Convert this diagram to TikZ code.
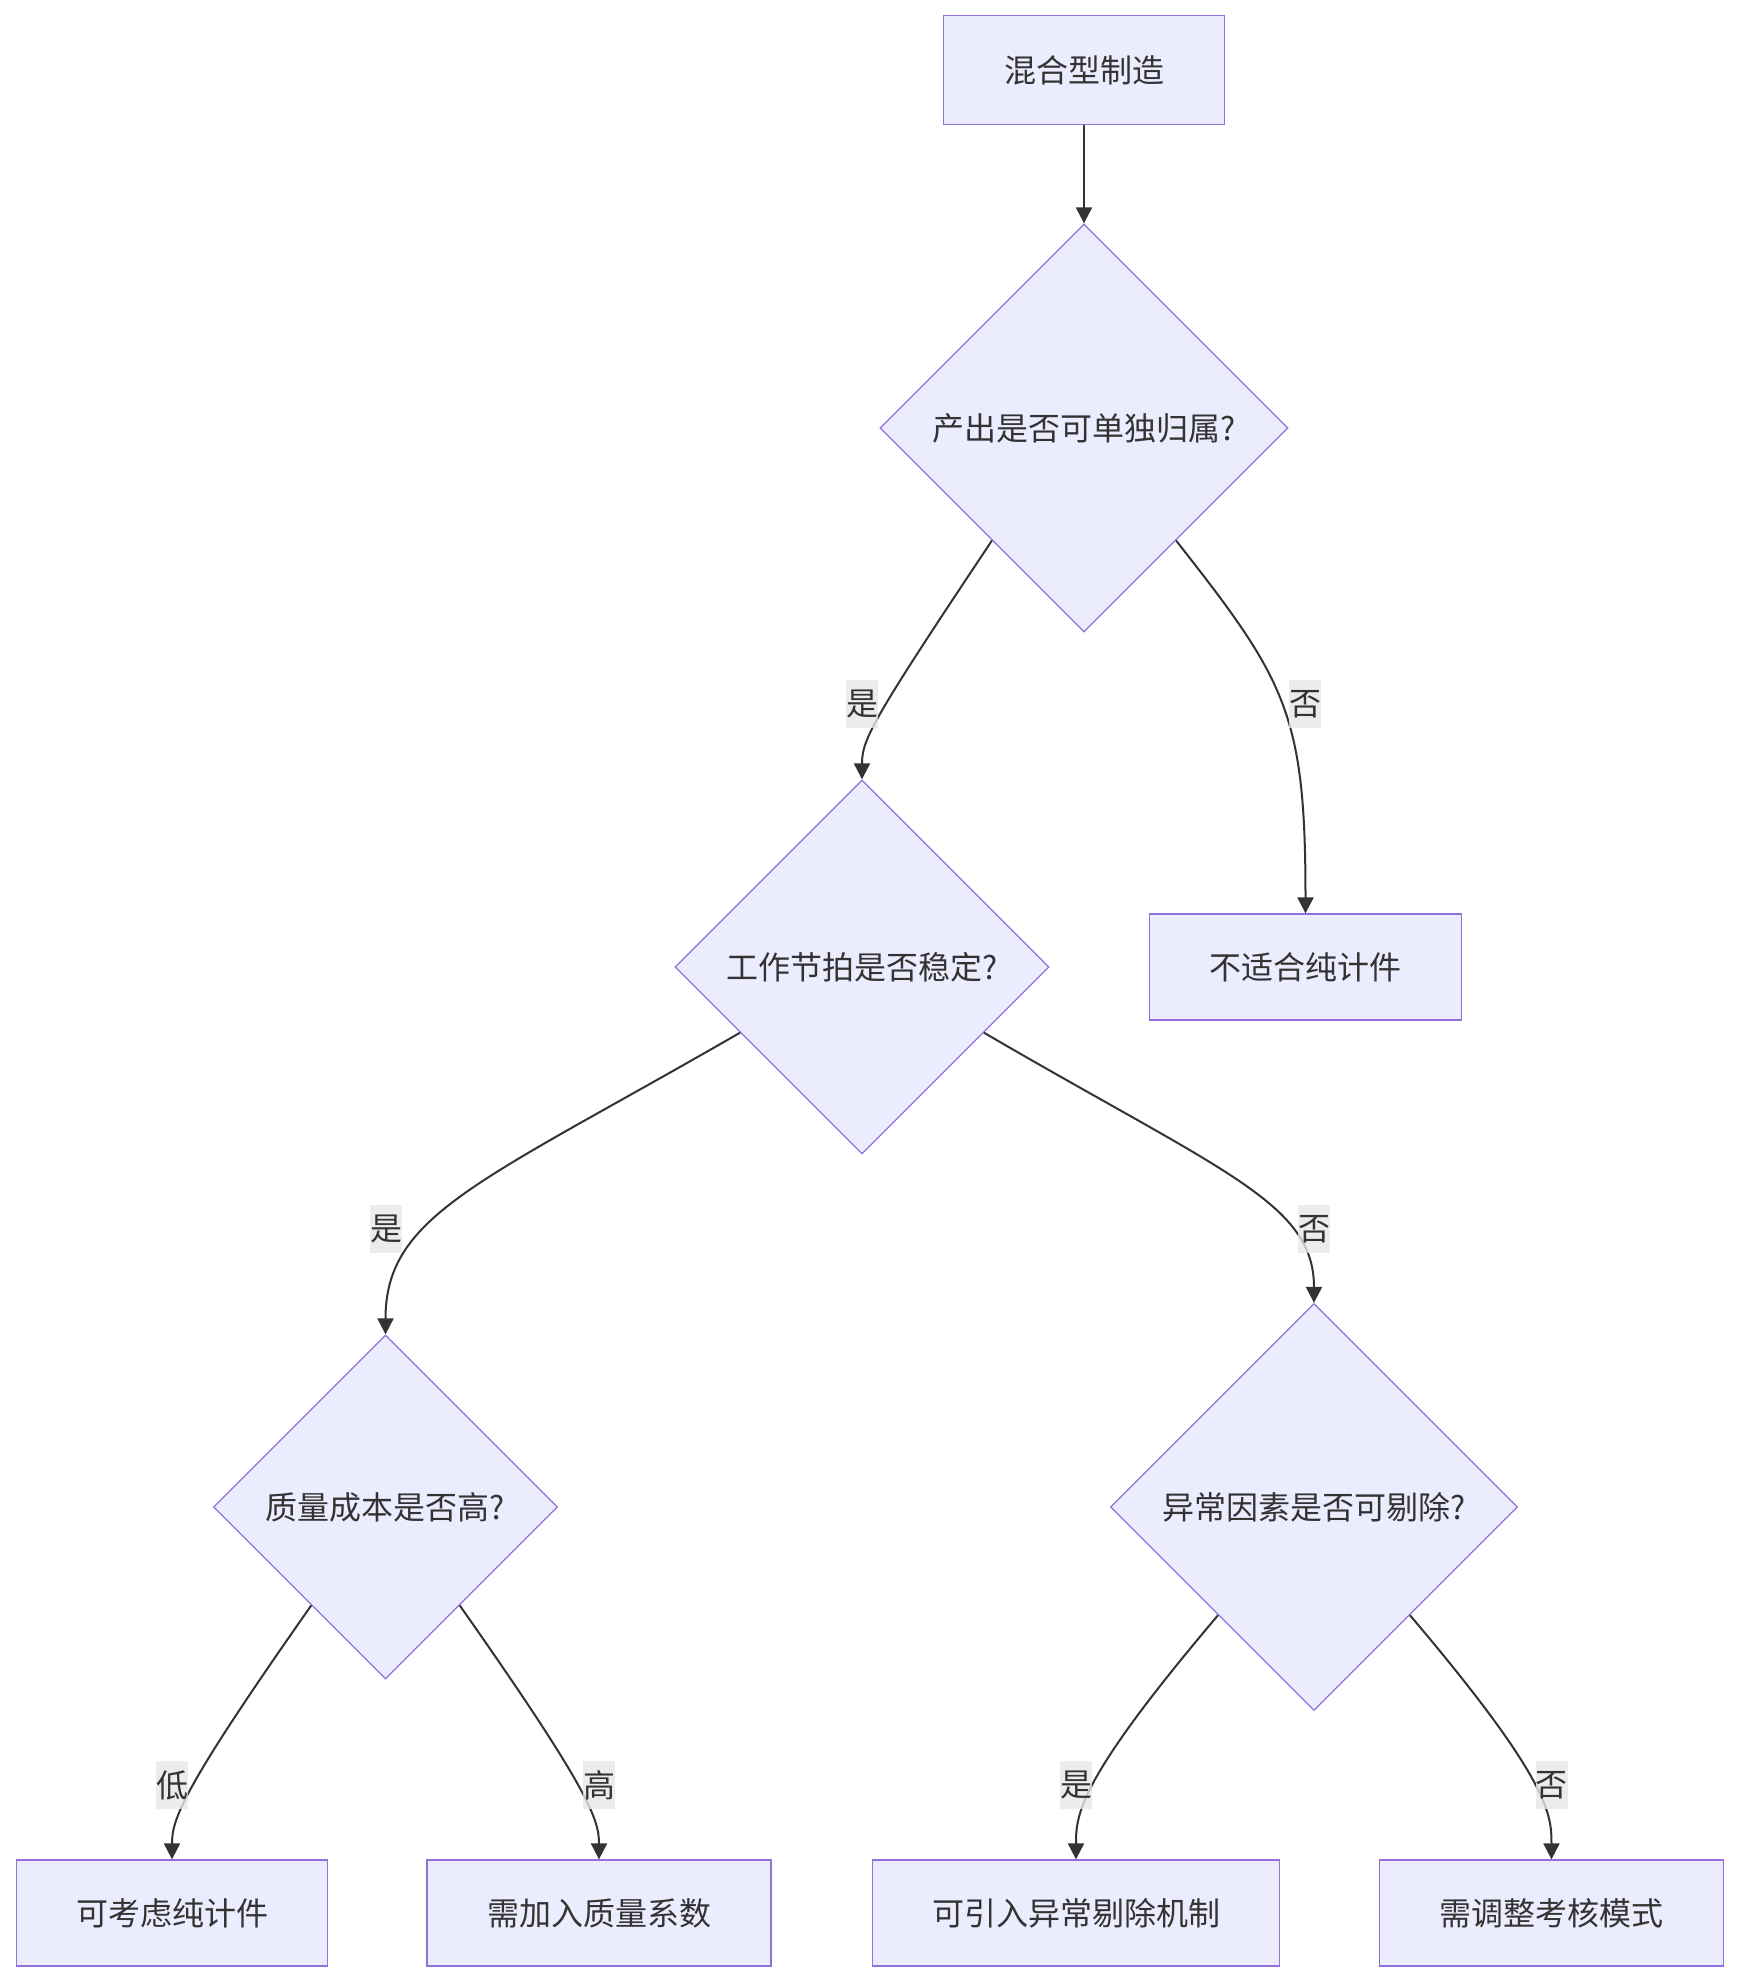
\documentclass[tikz,border=0pt]{standalone}
\usepackage{fontspec}
\newfontfamily\cjkfont{Noto Sans CJK SC}
\usetikzlibrary{arrows.meta,calc,positioning,shapes.geometric}
\definecolor{boxfill}{HTML}{ECECFF}
\definecolor{boxline}{HTML}{9370DB}
\definecolor{inkgray}{HTML}{333333}
\definecolor{tagfill}{HTML}{E8E8E8}
\begin{document}
\begin{tikzpicture}[x=.5pt,y=-.5pt,font={\cjkfont\fontsize{16pt}{19pt}\selectfont},text=inkgray,
 box/.style={draw=boxline,fill=boxfill,line width=.65pt,minimum height=53pt,inner sep=0pt},
 choice/.style={diamond,aspect=1,draw=boxline,fill=boxfill,line width=.65pt,inner sep=0pt},
 flow/.style={draw=inkgray,line width=1pt,-{Triangle[length=8pt,width=8pt]}},
 tag/.style={fill=tagfill,fill opacity=.8,text opacity=1,inner sep=0pt,minimum width=16pt,minimum height=24pt}]
\fill[white] (0,0) rectangle (1740,1983);
\useasboundingbox (0,0) rectangle (1740,1983);
\node[box,minimum width=140.5pt,minimum height=54.5pt] (mix) at (1084,70) {混合型制造};
\node[choice,minimum size=204pt] (own) at (1084,428) {产出是否可单独归属?};
\node[choice,minimum size=187pt] (beat) at (862,967) {工作节拍是否稳定?};
\node[box,minimum width=156pt] (nopiece) at (1305.5,967) {不适合纯计件};
\node[choice,minimum size=172pt] (qcost) at (385.5,1507) {质量成本是否高?};
\node[choice,minimum size=203.5pt] (anom) at (1314,1507) {异常因素是否可剔除?};
\node[box,minimum width=155.5pt] (piece) at (172,1913) {可考虑纯计件};
\node[box,minimum width=172pt] (qfactor) at (599,1913) {需加入质量系数};
\node[box,minimum width=203.5pt] (remove) at (1076,1913) {可引入异常剔除机制};
\node[box,minimum width=172pt] (redo) at (1551.5,1913) {需调整考核模式};
\draw[flow] (mix) -- (own);
\draw[flow] ($(own.south)!.45!(own.west)$) .. controls +(-120,180) and +(0,-40) .. (beat.north);
\draw[flow] ($(own.south)!.45!(own.east)$) .. controls +(110,140) and +(0,-200) .. (nopiece.north);
\draw[flow] ($(beat.west)!.35!(beat.south)$) .. controls +(-260,150) and +(0,-120) .. (qcost.north);
\draw[flow] ($(beat.east)!.35!(beat.south)$) .. controls +(240,140) and +(0,-100) .. (anom.north);
\draw[flow] ($(qcost.south)!.43!(qcost.west)$) .. controls +(-130,185) and +(0,-40) .. (piece.north);
\draw[flow] ($(qcost.south)!.43!(qcost.east)$) .. controls +(130,185) and +(0,-40) .. (qfactor.north);
\draw[flow] ($(anom.south)!.47!(anom.west)$) .. controls +(-140,165) and +(0,-45) .. (remove.north);
\draw[flow] ($(anom.south)!.47!(anom.east)$) .. controls +(140,165) and +(0,-45) .. (redo.north);
\node[tag] (yes1) at (862,704) {是};
\node[tag] (no1) at (1305,704) {否};
\node[tag] (yes2) at (386,1229) {是};
\node[tag] (no2) at (1314,1229) {否};
\node[tag] (low) at (172,1785) {低};
\node[tag] (high) at (599,1785) {高};
\node[tag] (yes3) at (1076,1785) {是};
\node[tag] (no3) at (1551.5,1785) {否};
\end{tikzpicture}
\end{document}
